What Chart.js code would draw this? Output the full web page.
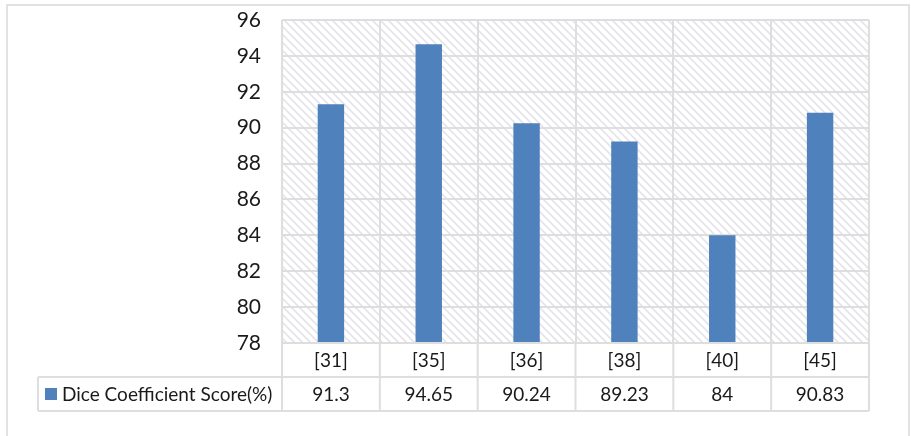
<!DOCTYPE html>
<html>
<head>
<meta charset="utf-8">
<script src="https://cdn.jsdelivr.net/npm/chart.js@4/dist/chart.umd.min.js"></script>
<style>
  html, body { margin: 0; padding: 0; background: #ffffff; }
  #wrap { position: relative; width: 911px; height: 436px; }
  canvas { display: block; }
</style>
</head>
<body>
<div id="wrap"><canvas id="c" width="911" height="436"></canvas></div>
<script>
// Reference labels and Dice scores
const categories = ['[31]', '[35]', '[36]', '[38]', '[40]', '[45]'];
const diceScores = [91.3, 94.65, 90.24, 89.23, 84, 90.83];
const seriesName = 'Dice Coefficient Score(%)';
const yMin = 78, yMax = 96, yStep = 2;

const BAR = '#4f81bd';
const GRID = '#dedede';
const FONT = 'Lato, "Open Sans", "Noto Sans", sans-serif';

// Light "\" hatch used behind the bars
function makeHatch(ctx) {
  const p = document.createElement('canvas');
  p.width = 8; p.height = 8;
  const g = p.getContext('2d');
  g.fillStyle = '#ffffff';
  g.fillRect(0, 0, 8, 8);
  g.strokeStyle = '#e4e4ea';
  g.lineWidth = 1.6;
  g.beginPath();
  g.moveTo(-2, -2); g.lineTo(10, 10);
  g.moveTo(-10, -2); g.lineTo(2, 10);
  g.moveTo(6, -2); g.lineTo(18, 10);
  g.stroke();
  return ctx.createPattern(p, 'repeat');
}

const frame = {
  id: 'frame',
  beforeDraw(chart) {
    const { ctx, chartArea: a } = chart;
    ctx.save();
    ctx.fillStyle = '#ffffff';
    ctx.fillRect(0, 0, chart.width, chart.height);
    // outer chart border
    ctx.strokeStyle = '#d9d9d9';
    ctx.lineWidth = 1.5;
    ctx.strokeRect(7, 5, 902, 440);
    // hatched plot background
    ctx.fillStyle = makeHatch(ctx);
    ctx.fillRect(a.left, a.top, a.right - a.left, a.bottom - a.top);
    ctx.restore();
  }
};

// Data table under the plot: category row and value row with legend key
const dataTable = {
  id: 'dataTable',
  afterDraw(chart) {
    const { ctx, chartArea: a } = chart;
    const xs = chart.scales.x;
    const row1 = a.bottom, row2 = a.bottom + 34, row3 = a.bottom + 68;
    const keyLeft = 38;
    const n = categories.length;
    const half = (xs.getPixelForValue(1) - xs.getPixelForValue(0)) / 2;
    ctx.save();
    ctx.strokeStyle = GRID;
    ctx.lineWidth = 2;
    ctx.beginPath();
    ctx.moveTo(a.left, row1); ctx.lineTo(a.right, row1);
    ctx.moveTo(keyLeft, row2); ctx.lineTo(a.right, row2);
    ctx.moveTo(keyLeft, row3); ctx.lineTo(a.right, row3);
    ctx.moveTo(keyLeft, row2); ctx.lineTo(keyLeft, row3);
    for (let i = 0; i <= n; i++) {
      const x = i < n ? xs.getPixelForValue(i) - half : xs.getPixelForValue(n - 1) + half;
      ctx.moveTo(x, row1); ctx.lineTo(x, row3);
    }
    ctx.stroke();

    ctx.fillStyle = '#1a1a1a';
    ctx.textAlign = 'center';
    ctx.textBaseline = 'middle';
    ctx.font = '19px ' + FONT;
    categories.forEach((c, i) => {
      const x = xs.getPixelForValue(i);
      ctx.fillText(c, x, (row1 + row2) / 2 + 1);
      ctx.fillText(String(diceScores[i]), x, (row2 + row3) / 2 + 1);
    });
    // legend key
    ctx.fillStyle = BAR;
    ctx.fillRect(45, 388, 12, 12);
    ctx.fillStyle = '#1a1a1a';
    ctx.textAlign = 'left';
    ctx.fillText(seriesName, 62, (row2 + row3) / 2 + 1);
    ctx.restore();
  }
};

new Chart(document.getElementById('c'), {
  type: 'bar',
  data: {
    labels: categories,
    datasets: [{
      label: seriesName,
      data: diceScores,
      backgroundColor: BAR,
      borderWidth: 0,
      barPercentage: 0.27,
      categoryPercentage: 1.0
    }]
  },
  options: {
    responsive: false,
    animation: false,
    layout: { padding: { left: 0, right: 42, top: 20, bottom: 93 } },
    plugins: { legend: { display: false }, tooltip: { enabled: false } },
    scales: {
      x: {
        offset: true,
        grid: { display: true, offset: true, color: GRID, lineWidth: 2, drawTicks: false },
        border: { display: false },
        ticks: { display: false },
        afterFit(s) { s.height = 0; s.paddingTop = 0; s.paddingBottom = 0; s.paddingLeft = 0; s.paddingRight = 0; }
      },
      y: {
        min: yMin, max: yMax,
        grid: { color: GRID, lineWidth: 2, drawTicks: false },
        border: { display: false },
        ticks: {
          stepSize: yStep,
          padding: 21,
          color: '#1a1a1a',
          font: { family: FONT, size: 21 }
        },
        afterFit(s) { s.width = 282; s.paddingTop = 0; s.paddingBottom = 0; }
      }
    }
  },
  plugins: [frame, dataTable]
});
</script>
</body>
</html>
